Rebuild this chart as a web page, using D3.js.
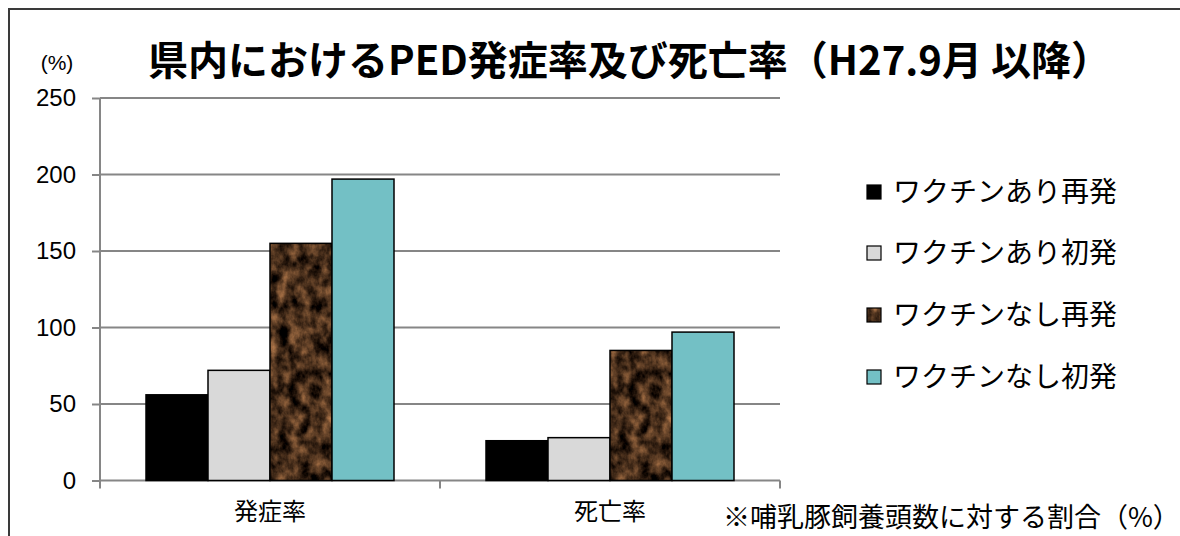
<!DOCTYPE html>
<head>
<meta charset="utf-8">
<style>
body { margin: 0; background: #fff; }
svg { display: block; }
.axis path, .axis line { stroke: #868686; stroke-width: 2; }
.axis text { font: 24px "Liberation Sans", Arial, sans-serif; fill: #000; }
.axis--x text { font: 24px "Noto Sans CJK JP", sans-serif; }
.jp { font-family: "Noto Sans CJK JP", sans-serif; fill: #000; }
</style>
<title>PED</title>
</head>
<body>
<svg width="1180" height="536"></svg>
<script src="https://cdn.jsdelivr.net/npm/d3@7"></script>
<script>
var categories = ["発症率", "死亡率"]
var seriesNames = ["ワクチンあり再発", "ワクチンあり初発", "ワクチンなし再発", "ワクチンなし初発"]
var vaxRecur = [56, 26]
var vaxFirst = [72, 28]
var noVaxRecur = [155, 85]
var noVaxFirst = [197, 97]
var yTicks = [0, 50, 100, 150, 200, 250]

var seriesValues = [vaxRecur, vaxFirst, noVaxRecur, noVaxFirst]
var fills = ["#000000", "#d9d9d9", "url(#brownTex)", "#73c0c5"]

var svg = d3.select("svg")
var margin = {left: 100, top: 98, right: 400, bottom: 55.5}
var width = 680, height = 382.5

// dark brown marble texture
var defs = svg.append("defs")
var f = defs.append("filter").attr("id", "tex").attr("x", 0).attr("y", 0).attr("width", 1).attr("height", 1)
  .attr("color-interpolation-filters", "sRGB")
f.append("feTurbulence").attr("type", "fractalNoise").attr("baseFrequency", "0.09 0.07")
  .attr("numOctaves", 4).attr("seed", 3).attr("result", "n")
f.append("feColorMatrix").attr("in", "n").attr("type", "matrix")
  .attr("values", "1.0 0 0 0 -0.22  0.7 0 0 0 -0.17  0.45 0 0 0 -0.12  0 0 0 0 1")
var pat = defs.append("pattern").attr("id", "brownTex").attr("patternUnits", "userSpaceOnUse")
  .attr("width", 1180).attr("height", 536)
pat.append("rect").attr("width", 1180).attr("height", 536).attr("fill", "#3f2818")
pat.append("rect").attr("width", 1180).attr("height", 536).attr("filter", "url(#tex)")

// outer frame
svg.append("rect").attr("x", 9).attr("y", 9).attr("width", 1200).attr("height", 600)
  .attr("fill", "none").attr("stroke", "#3a3a3a").attr("stroke-width", 2)

var x0 = d3.scaleBand().domain(categories).range([0, width])
var x1 = d3.scaleBand().domain(d3.range(seriesNames.length)).range([46, 340 - 46])
var y = d3.scaleLinear().domain([0, 250]).range([height, 0])

var g = svg.append("g").attr("transform", "translate(" + margin.left + "," + margin.top + ")")

// gridlines
g.selectAll(".grid").data(yTicks.slice(1)).enter().append("line")
  .attr("x1", 0).attr("x2", width)
  .attr("y1", d => y(d)).attr("y2", d => y(d))
  .attr("stroke", "#868686").attr("stroke-width", 2)

g.append("g").attr("class", "axis axis--y")
  .call(d3.axisLeft(y).tickValues(yTicks).tickSize(8).tickPadding(16))
  .call(a => a.select(".domain").attr("d", "M0," + (height + 8) + "V0"))

g.append("g").attr("class", "axis axis--x")
  .attr("transform", "translate(0," + height + ")")
  .call(d3.axisBottom(x0).tickSize(0).tickPadding(22))
  .call(a => a.select(".domain").attr("d", "M0,0H" + width))

// x ticks between categories
g.selectAll(".xt").data([340, 680]).enter().append("line")
  .attr("x1", d => d).attr("x2", d => d).attr("y1", height).attr("y2", height + 8)
  .attr("stroke", "#868686").attr("stroke-width", 2)

var groups = g.selectAll(".grp").data(categories).enter().append("g")
  .attr("transform", d => "translate(" + x0(d) + ",0)")
groups.selectAll("rect").data((c, ci) => seriesValues.map((s, si) => ({si: si, v: s[ci]})))
  .enter().append("rect")
  .attr("x", d => x1(d.si))
  .attr("y", d => y(d.v))
  .attr("width", x1.bandwidth())
  .attr("height", d => height - y(d.v))
  .attr("fill", d => fills[d.si])
  .attr("stroke", "#000").attr("stroke-width", 1.5)

// legend
var leg = svg.append("g").attr("transform", "translate(866,0)")
var rowY = [192, 253, 315, 377]
seriesNames.forEach(function(n, i) {
  leg.append("rect").attr("x", 1).attr("y", rowY[i] - 7).attr("width", 14).attr("height", 14)
    .attr("fill", fills[i]).attr("stroke", "#000").attr("stroke-width", 1.2)
  leg.append("text").attr("class", "jp").attr("x", 27).attr("y", rowY[i])
    .attr("dy", "0.36em").attr("font-size", 28).text(n)
})

// titles
svg.append("text").attr("class", "jp").attr("x", 148).attr("y", 75)
  .attr("font-size", 40).attr("font-weight", "bold")
  .text("県内におけるPED発症率及び死亡率（H27.9月 以降）")
svg.append("text").attr("x", 57).attr("y", 70).attr("text-anchor", "middle")
  .attr("font-size", 21).style("font-family", "'Liberation Sans', Arial, sans-serif")
  .text("(%)")
svg.append("text").attr("class", "jp").attr("x", 723).attr("y", 527)
  .attr("font-size", 27).text("※哺乳豚飼養頭数に対する割合（%）")
</script>
</body>
